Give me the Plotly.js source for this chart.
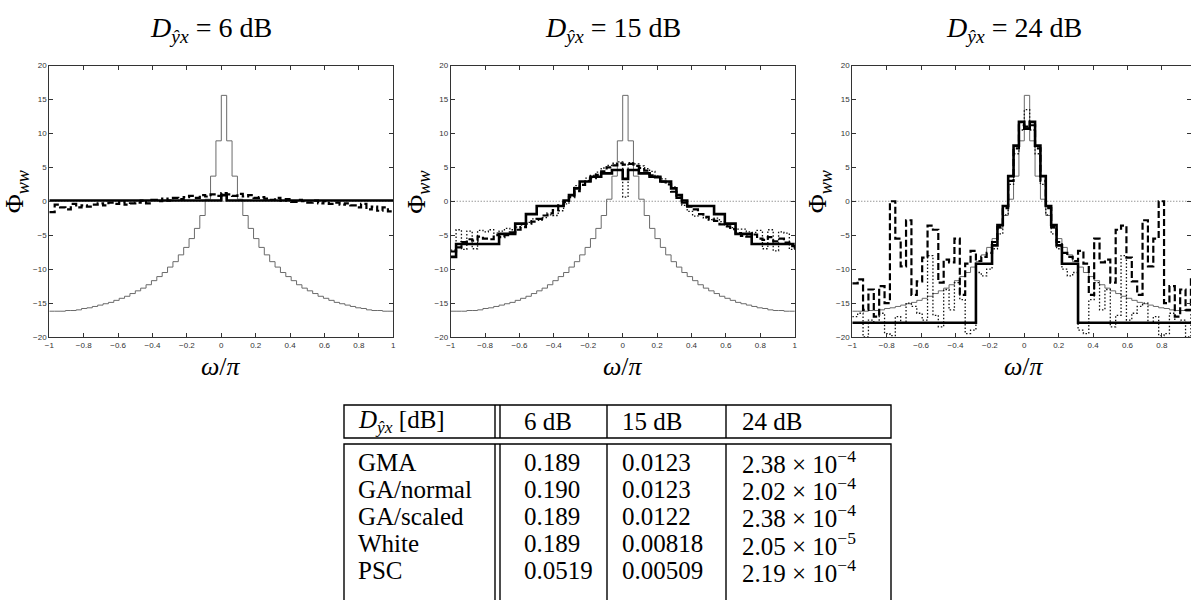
<!DOCTYPE html>
<html><head><meta charset="utf-8">
<script src="https://cdn.plot.ly/plotly-3.0.1.min.js"></script>
<style>html,body{margin:0;padding:0;background:#fff;}#chart{width:1191px;height:600px;}</style>
</head><body><div id="chart"></div>
<script>
// frequency grid omega/pi (stairs edges)
const omega = [-1,-0.96875,-0.9375,-0.90625,-0.875,-0.84375,-0.8125,-0.78125,-0.75,-0.71875,-0.6875,-0.65625,-0.625,-0.59375,-0.5625,-0.53125,-0.5,-0.46875,-0.4375,-0.40625,-0.375,-0.34375,-0.3125,-0.28125,-0.25,-0.21875,-0.1875,-0.15625,-0.125,-0.09375,-0.0625,-0.03125,0,0.03125,0.0625,0.09375,0.125,0.15625,0.1875,0.21875,0.25,0.28125,0.3125,0.34375,0.375,0.40625,0.4375,0.46875,0.5,0.53125,0.5625,0.59375,0.625,0.65625,0.6875,0.71875,0.75,0.78125,0.8125,0.84375,0.875,0.90625,0.9375,0.96875,1];

// true spectrum (thin grey line, same in every panel)
const trueSpectrum = [-16.2,-16.2,-16.2,-16.1,-16.1,-16.0,-15.8,-15.7,-15.5,-15.3,-15.1,-14.9,-14.6,-14.3,-14.0,-13.6,-13.2,-12.8,-12.3,-11.7,-11.1,-10.5,-9.7,-8.9,-7.9,-6.8,-5.5,-4.0,-2.1,0.3,3.7,8.9,15.6,8.9,3.7,0.3,-2.1,-4.0,-5.5,-6.8,-7.9,-8.9,-9.7,-10.5,-11.1,-11.7,-12.3,-12.8,-13.2,-13.6,-14.0,-14.3,-14.6,-14.9,-15.1,-15.3,-15.5,-15.7,-15.8,-16.0,-16.1,-16.1,-16.2,-16.2,-16.2];

// 6 dB panel
const solid6 = [0.1,0.1,0.1,0.1,0.1,0.1,0.1,0.1,0.1,0.1,0.1,0.1,0.1,0.1,0.1,0.1,0.1,0.1,0.1,0.1,0.1,0.1,0.1,0.1,0.1,0.1,0.1,0.1,0.1,0.1,0.1,0.1,0.9,0.1,0.1,0.1,0.1,0.1,0.1,0.1,0.1,0.1,0.1,0.1,0.1,0.1,0.1,0.1,0.1,0.1,0.1,0.1,0.1,0.1,0.1,0.1,0.1,0.1,0.1,0.1,0.1,0.1,0.1,0.1,0.1];
const dashed6 = [-1.6,-0.5,-0.9,-1.2,-0.4,-0.9,-0.6,-0.8,-0.5,-0.3,-0.6,-0.2,-0.4,-0.1,-0.5,-0.3,-0.2,0.1,-0.3,0.2,0.0,0.4,0.1,0.5,0.3,0.6,0.8,0.5,0.9,0.7,1.0,0.8,1.2,1.0,0.8,1.1,0.7,0.9,0.5,0.6,0.4,0.2,0.5,0.1,0.3,-0.1,0.2,0.0,-0.2,0.1,-0.3,0.0,-0.4,-0.2,-0.5,-0.3,-0.6,-0.9,-0.4,-1.2,-0.8,-1.4,-0.9,-1.5,-1.5];

// 15 dB panel
const solid15 = [-8.2,-6.3,-6.3,-6.3,-6.3,-6.3,-6.3,-6.3,-6.3,-4.8,-4.8,-4.8,-3.3,-3.3,-1.9,-1.9,-0.7,-0.7,-0.7,-0.7,-0.7,0.1,0.9,1.9,2.9,2.9,3.6,3.6,4.1,4.1,4.6,4.6,3.3,4.6,4.6,4.1,4.1,3.6,3.6,2.9,2.9,1.9,0.9,0.1,-0.7,-0.7,-0.7,-0.7,-0.7,-1.9,-1.9,-3.3,-3.3,-4.8,-4.8,-4.8,-6.3,-6.3,-6.3,-6.3,-6.3,-6.3,-6.3,-6.3,-6.3];
const dashed15 = [-7.4,-6.8,-6.0,-5.6,-5.8,-5.2,-5.5,-5.6,-5.0,-5.3,-5.0,-4.6,-4.2,-3.8,-3.3,-3.0,-2.6,-2.1,-1.8,-1.3,-0.6,-0.1,0.6,1.5,2.4,3.0,3.4,3.9,4.4,5.0,5.3,5.6,5.4,5.5,5.2,4.9,4.5,3.8,3.5,2.9,2.5,1.4,0.5,-0.2,-0.8,-1.2,-1.9,-2.3,-2.7,-2.9,-3.4,-3.7,-4.1,-4.7,-5.1,-5.2,-4.9,-5.5,-5.7,-5.3,-5.9,-5.5,-6.1,-6.6,-7.0];
const dotted15 = [-7.2,-4.2,-7.1,-4.4,-7.0,-4.3,-4.5,-4.2,-4.7,-4.4,-4.0,-4.2,-3.8,-3.5,-3.1,-2.6,-2.8,-2.4,-2.0,-2.1,-1.4,-0.4,0.9,2.3,2.9,3.4,3.8,4.3,4.9,5.3,5.6,5.8,0.6,5.7,5.5,5.2,4.8,4.4,3.7,3.3,2.8,2.1,0.8,-0.6,-1.5,-2.2,-1.9,-2.5,-2.7,-2.5,-3.0,-3.6,-3.9,-4.1,-4.1,-4.5,-4.6,-4.3,-7.0,-4.2,-7.3,-4.5,-4.7,-7.1,-6.9];

// 24 dB panel
const solid24 = [-17.9,-17.9,-17.9,-17.9,-17.9,-17.9,-17.9,-17.9,-17.9,-17.9,-17.9,-17.9,-17.9,-17.9,-17.9,-17.9,-17.9,-17.9,-17.9,-17.9,-17.9,-17.9,-17.9,-9.2,-9.2,-9.2,-6.5,-3.5,-0.7,3.7,8.2,11.7,10.7,11.7,8.2,3.7,-0.7,-3.5,-6.5,-9.2,-9.2,-9.2,-17.9,-17.9,-17.9,-17.9,-17.9,-17.9,-17.9,-17.9,-17.9,-17.9,-17.9,-17.9,-17.9,-17.9,-17.9,-17.9,-17.9,-17.9,-17.9,-17.9,-17.9,-17.9,-17.9];
const dashed24 = [-12.1,-11.5,-16.0,-13.0,-17.0,-12.5,-15.0,0.0,-5.5,-9.6,-2.8,-13.8,-11.8,-8.3,-3.6,-4.2,-12.0,-8.6,-9.0,-5.5,-13.8,-9.2,-7.3,-8.8,-8.2,-7.6,-6.0,-3.8,-1.0,3.0,7.8,11.2,11.0,11.2,7.8,3.0,-1.0,-3.8,-6.0,-7.6,-8.2,-8.8,-7.3,-9.2,-13.8,-5.5,-9.0,-8.6,-12.0,-4.2,-3.6,-8.3,-11.8,-13.8,-2.8,-9.6,-5.5,0.0,-15.0,-12.5,-17.0,-13.0,-16.0,-11.5,-12.1];
const dotted24 = [-17.0,-16.5,-20.0,-17.5,-18.0,-16.5,-19.5,-19.8,-17.0,-18.0,-15.0,-15.5,-16.5,-17.5,-8.0,-16.8,-18.5,-13.0,-16.0,-12.0,-14.5,-19.5,-19.0,-10.5,-11.0,-10.0,-7.0,-4.8,-2.0,2.5,7.0,10.5,13.5,10.5,7.0,2.5,-2.0,-4.8,-7.0,-10.0,-11.0,-10.5,-19.0,-19.5,-14.5,-12.0,-16.0,-13.0,-18.5,-16.8,-8.0,-17.5,-16.5,-15.5,-15.0,-18.0,-17.0,-19.8,-19.5,-16.5,-18.0,-17.5,-20.0,-16.5,-17.0];

const panelLevels = ['6 dB','15 dB','24 dB'];
const xTicks = [-1,-0.8,-0.6,-0.4,-0.2,0,0.2,0.4,0.6,0.8,1];
const yTicks = [-20,-15,-10,-5,0,5,10,15,20];

// table
const tableHeader = ['<i>D</i><sub><i>ŷx</i></sub> [dB]','6 dB','15 dB','24 dB'];
const methods = ['GMA','GA/normal','GA/scaled','White','PSC'];
const err6 = ['0.189','0.190','0.189','0.189','0.0519'];
const err15 = ['0.0123','0.0123','0.0122','0.00818','0.00509'];
const err24Mant = ['2.38','2.02','2.38','2.05','2.19'];
const err24Exp = ['−4','−4','−4','−5','−4'];

const W = 1191, H = 600;
const px = v => v / W, py = v => 1 - v / H;
const domainsPx = [[49.3, 393.3], [450.7, 795], [852.3, 1191]];
const yDom = [py(337), py(65.5)];
const seriesSets = [
  [trueSpectrum, null, dashed6, solid6],
  [trueSpectrum, dotted15, dashed15, solid15],
  [trueSpectrum, dotted24, dashed24, solid24]
];
const traces = [];
const layout = {
  width: W, height: H, margin: {l: 0, r: 0, t: 0, b: 0},
  paper_bgcolor: '#fff', plot_bgcolor: '#fff', showlegend: false,
  annotations: [], shapes: []
};
const serif = 'Liberation Serif, Times New Roman, serif';
const note = (x, y, text, size, extra) => Object.assign({xref: 'paper', yref: 'paper', x: px(x), y: py(y),
  xanchor: 'center', yanchor: 'middle', showarrow: false, text: text,
  font: {family: serif, size: size, color: '#000'}}, extra || {});
seriesSets.forEach((set, i) => {
  const sfx = i === 0 ? '' : String(i + 1);
  const xa = 'x' + sfx, ya = 'y' + sfx;
  const styles = [
    {color: '#6a6a6a', width: 1},
    {color: '#111', width: 1.3, dash: '1.5px,2px'},
    {color: '#000', width: 2.2, dash: '7px,3px'},
    {color: '#000', width: 2.6}
  ];
  set.forEach((ys, j) => {
    if (!ys) return;
    traces.push({x: omega, y: ys, xaxis: xa, yaxis: ya, type: 'scatter', mode: 'lines',
      line: Object.assign({shape: 'hv'}, styles[j]), hoverinfo: 'skip'});
  });
  const d = domainsPx[i];
  const axCommon = {showline: true, linecolor: '#333', linewidth: 1, mirror: 'ticks', ticks: 'inside',
    ticklen: 4, tickcolor: '#333', showgrid: false, zeroline: false,
    tickfont: {size: 8, color: '#333', family: 'Liberation Sans, Arial, sans-serif'}};
  layout['xaxis' + sfx] = Object.assign({}, axCommon, {domain: [px(d[0]), px(d[1])], anchor: ya,
    range: [-1, -1 + (d[1] - d[0]) / 172], tickvals: xTicks});
  layout['yaxis' + sfx] = Object.assign({}, axCommon, {domain: yDom, anchor: xa,
    range: [-20, 20], tickvals: yTicks});
  // zero reference line
  layout.shapes.push({type: 'line', xref: xa + ' domain', x0: 0, x1: 1, yref: ya, y0: 0, y1: 0,
    line: {color: '#444', width: 0.8, dash: '1px,2px'}, layer: 'below'});
  const cx = d[0] + 172;
  layout.annotations.push(note(cx - 10, 29, '<i>D</i><sub><i>ŷx</i></sub> = ' + panelLevels[i], 28));
  layout.annotations.push(note(cx, 366, '<i>ω</i>/<i>π</i>', 26));
  layout.annotations.push(note(d[0] - 33, 192, 'Φ<sub><i>ww</i></sub>', 26, {textangle: -90}));
});

// table drawing
const tL = 344, tR = 891, hTop = 405, hBot = 438, bTop = 444, bBot = 605;
const lineT = {color: '#000', width: 1.4};
const rect = (x0, y0, x1, y1) => ({type: 'rect', xref: 'paper', yref: 'paper', x0: px(x0), x1: px(x1), y0: py(y1), y1: py(y0), line: lineT});
const vline = (x, y0, y1) => ({type: 'line', xref: 'paper', yref: 'paper', x0: px(x), x1: px(x), y0: py(y1), y1: py(y0), line: lineT});
layout.shapes.push(rect(tL, hTop, tR, hBot), rect(tL, bTop, tR, bBot));
[495, 500, 607, 726].forEach(x => { layout.shapes.push(vline(x, hTop, hBot), vline(x, bTop, bBot)); });
const colX = [356, 522, 620, 740];
tableHeader.forEach((t, c) => layout.annotations.push(note(colX[c], 421, t, 25, {xanchor: 'left'})));
methods.forEach((m, r) => {
  const cells = [m, err6[r], err15[r], err24Mant[r] + ' × 10<sup>' + err24Exp[r] + '</sup>'];
  cells.forEach((t, c) => layout.annotations.push(note(colX[c], 462 + 27.2 * r, t, 25, {xanchor: 'left'})));
});

Plotly.newPlot('chart', traces, layout, {staticPlot: true});
</script></body></html>
